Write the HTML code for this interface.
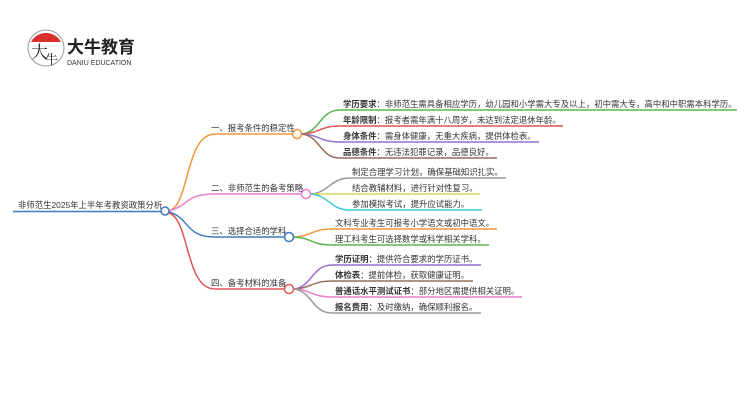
<!DOCTYPE html>
<html><head><meta charset="utf-8"><style>
html,body{margin:0;padding:0;background:#fff;}
svg{display:block;}
text{font-family:"Liberation Sans","Noto Sans CJK SC",sans-serif;font-size:8.4px;fill:#333;}
.b{font-weight:bold;}
</style></head><body>
<svg width="750" height="410" viewBox="0 0 750 410" xmlns="http://www.w3.org/2000/svg">
<g>
<path d="M31 42 A17 17 0 0 1 61 42 Z" fill="#d9302c"/>
<circle cx="46" cy="48" r="18" fill="none" stroke="#999" stroke-width="1"/>
<text x="31" y="58" style="font-size:17px;fill:#222;font-family:'Noto Serif CJK SC',serif">大</text>
<text x="45" y="64" style="font-size:13px;fill:#222;font-family:'Noto Serif CJK SC',serif">牛</text>
<text x="67" y="53" style="font-size:17px;font-weight:bold;fill:#222">大牛教育</text>
<text x="67" y="65" style="font-size:7px;fill:#333">DANIU EDUCATION</text>
</g>
<g fill="none" stroke-width="1.5">
<line x1="13" y1="211.5" x2="161" y2="211.5" stroke="#3b7bbf"/>
<path d="M169 211 C190 205 185 134 215 134 L292 134" stroke="#f7953a"/>
<path d="M169 211 C190 205 185 194 215 194 L301 194" stroke="#e87fcf"/>
<path d="M169 212 C190 218 185 237 215 237 L284 237" stroke="#3b7bbf"/>
<path d="M169 213 C190 220 185 289 215 289 L284 289" stroke="#e05555"/>
<path d="M302 134 C320 132 320 110 340 110 L737 110" stroke="#5ab552"/>
<path d="M302 134 C320 133 320 126 340 126 L563 126" stroke="#e05555"/>
<path d="M302 134 C320 135 320 142 340 142 L539 142" stroke="#9b6fcf"/>
<path d="M302 134 C320 136 320 158 340 158 L497 158" stroke="#9a6b5a"/>
<path d="M311 194 C330 192 330 178 350 178 L506 178" stroke="#999"/>
<path d="M311 194 L480 194" stroke="#d7d35a"/>
<path d="M311 194 C330 196 330 210 350 210 L482 210" stroke="#3cc8d8"/>
<path d="M294 237 C312 236 312 229 332 229 L497 229" stroke="#f7953a"/>
<path d="M294 237 C312 238 312 245 332 245 L489 245" stroke="#5ab552"/>
<path d="M294 289 C312 287 312 265 332 265 L481 265" stroke="#9b6fcf"/>
<path d="M294 289 C312 288 312 281 332 281 L473 281" stroke="#9a6b5a"/>
<path d="M294 289 C312 290 312 297 332 297 L522 297" stroke="#e87fcf"/>
<path d="M294 289 C312 291 312 313 332 313 L481 313" stroke="#999"/>
</g>
<g fill="#fff" stroke-width="1.5">
<circle cx="165" cy="211" r="4" stroke="#3b7bbf"/>
<circle cx="297" cy="134" r="4.5" stroke="#f7953a"/>
<circle cx="306" cy="194" r="4.5" stroke="#e87fcf"/>
<circle cx="289" cy="237" r="4.5" stroke="#3b7bbf"/>
<circle cx="289" cy="289" r="4.5" stroke="#e05555"/>
</g>
<text x="18" y="208">非师范生2025年上半年考教资政策分析</text>
<text x="211" y="131">一、报考条件的稳定性</text>
<text x="211" y="191">二、非师范生的备考策略</text>
<text x="211" y="234">三、选择合适的学科</text>
<text x="211" y="286">四、备考材料的准备</text>

<text x="343" y="107"><tspan class="b">学历要求</tspan>：非师范生需具备相应学历，幼儿园和小学需大专及以上，初中需大专，高中和中职需本科学历。</text>
<text x="343" y="123"><tspan class="b">年龄限制</tspan>：报考者需年满十八周岁，未达到法定退休年龄。</text>
<text x="343" y="139"><tspan class="b">身体条件</tspan>：需身体健康，无重大疾病，提供体检表。</text>
<text x="343" y="155"><tspan class="b">品德条件</tspan>：无违法犯罪记录，品德良好。</text>

<text x="352" y="175">制定合理学习计划，确保基础知识扎实。</text>
<text x="352" y="191">结合教辅材料，进行针对性复习。</text>
<text x="352" y="207">参加模拟考试，提升应试能力。</text>

<text x="335" y="226">文科专业考生可报考小学语文或初中语文。</text>
<text x="335" y="242">理工科考生可选择数学或科学相关学科。</text>

<text x="335" y="262"><tspan class="b">学历证明</tspan>：提供符合要求的学历证书。</text>
<text x="335" y="278"><tspan class="b">体检表</tspan>：提前体检，获取健康证明。</text>
<text x="335" y="294"><tspan class="b">普通话水平测试证书</tspan>：部分地区需提供相关证明。</text>
<text x="335" y="310"><tspan class="b">报名费用</tspan>：及时缴纳，确保顺利报名。</text>
</svg>
</body></html>
